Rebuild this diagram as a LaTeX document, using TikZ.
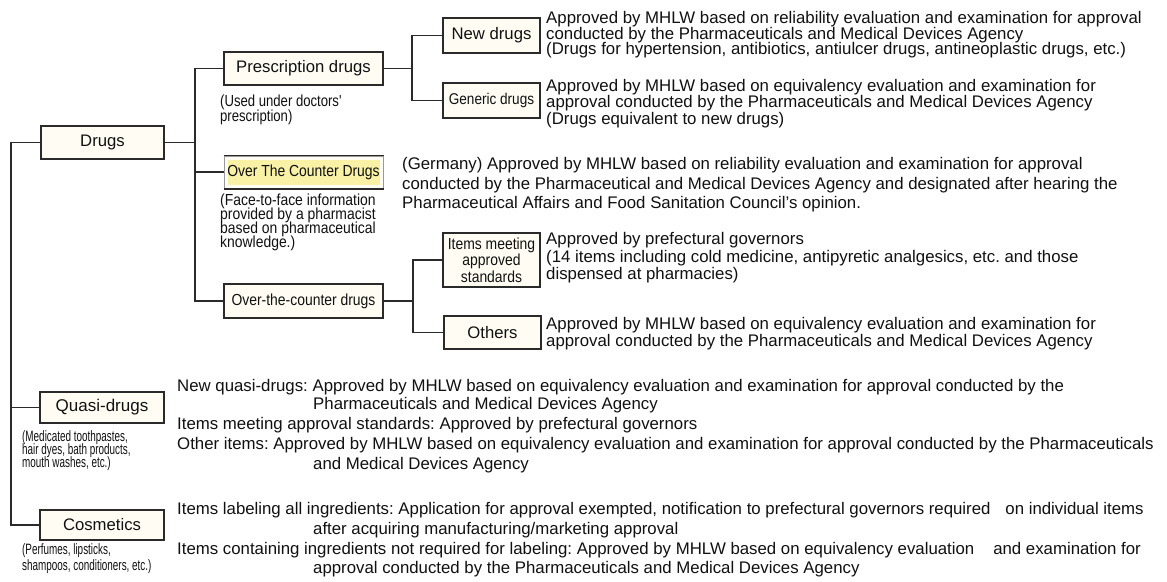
\documentclass[tikz,border=0pt]{standalone}
\usepackage{fontspec}
\setmainfont{Liberation Sans}
\newfontfamily\nfA[FakeStretch=0.87]{Liberation Sans}
\newfontfamily\nfB[FakeStretch=0.82]{Liberation Sans}
\newfontfamily\nfC[FakeStretch=0.66]{Liberation Sans}
\definecolor{linec}{HTML}{2A2A2A}
\definecolor{txtc}{HTML}{111111}
\definecolor{boxfill}{HTML}{FFFDF3}
\definecolor{hlyellow}{HTML}{F8F1A6}
\newcommand{\bodyline}[4]{\node[body] (#1) at (#2,#3) {#4};}
\frenchspacing
\begin{document}
\begin{tikzpicture}[x=1pt,y=-1pt,
  catbox/.style={draw=linec, line width=1.4pt, fill=boxfill, inner sep=0pt, text=txtc},
  conn/.style={draw=linec, line width=1.4pt},
  body/.style={inner sep=0pt, anchor=base west, text=txtc, font=\fontsize{16.8}{18}\selectfont},
  notea/.style={inner sep=0pt, anchor=base west, text=txtc, font=\nfB\fontsize{16}{16}\selectfont},
  noteb/.style={inner sep=0pt, anchor=base west, text=txtc, font=\nfA\fontsize{16}{16}\selectfont},
  notec/.style={inner sep=0pt, anchor=base west, text=txtc, font=\nfC\fontsize{15}{15}\selectfont},
  lblfont/.style={font=\fontsize{16.7}{18}\selectfont},
  lblnarrow/.style={font=\nfA\fontsize{16}{16.5}\selectfont},
]
\path[use as bounding box, fill=white] (0,0) rectangle (1167,581);

% ---- category boxes ----
\node[catbox, lblfont, minimum width=123pt, minimum height=33pt] (drugs) at (102.5,142.5) {Drugs};
\node[catbox, lblfont, minimum width=159pt, minimum height=33pt] (presc) at (303.5,68.5) {Prescription drugs};
\node[catbox, lblnarrow, draw=black!40, line width=1pt, minimum width=159pt, minimum height=32pt,
  path picture={\fill[hlyellow] ([shift={(4pt,-4pt)}]path picture bounding box.north west) rectangle ([shift={(-3pt,3pt)}]path picture bounding box.south east);}]
  (otc) at (303.5,172) {Over The Counter Drugs};
\draw[conn, line width=1.2pt] (otc.north west) -- (otc.north east);
\draw[conn, line width=2pt] (otc.south west) -- (otc.south east);
\node[catbox, lblnarrow, minimum width=159pt, minimum height=34pt] (otcd) at (303.5,301) {Over-the-counter drugs};
\node[catbox, lblfont, minimum width=97pt, minimum height=35pt] (newd) at (491.5,35.5) {New drugs};
\node[catbox, font=\nfA\fontsize{15.6}{16}\selectfont, minimum width=97pt, minimum height=35pt] (gen) at (491.5,100.5) {Generic drugs};
\node[catbox, lblnarrow, align=center, minimum width=97pt, minimum height=54pt] (items) at (491.5,260) {Items meeting\\approved\\standards};
\node[catbox, lblfont, minimum width=97pt, minimum height=33pt] (others) at (492.5,332.5) {Others};
\node[catbox, font=\fontsize{17}{18}\selectfont, minimum width=124pt, minimum height=31pt] (quasi) at (102,407.5) {Quasi-drugs};
\node[catbox, lblfont, minimum width=124pt, minimum height=30pt] (cosm) at (102,525) {Cosmetics};

% ---- connectors ----
\coordinate (sp0) at (11,142.5);
\coordinate (sp1) at (195,142.5);
\coordinate (sp2) at (412,68.5);
\coordinate (sp3) at (413,301);
\draw[conn] (drugs.west) -- (sp0) |- (cosm.west);
\draw[conn] (sp0) |- (quasi.west);
\draw[conn] (drugs.east) -- (sp1);
\draw[conn] (presc.west) -| (sp1) |- (otcd.west);
\draw[conn] (sp1) |- (otc.west);
\draw[conn] (presc.east) -- (sp2);
\draw[conn] (newd.west) -| (sp2) |- (gen.west);
\draw[conn] (otcd.east) -- (sp3);
\draw[conn] (items.west) -| (sp3) |- (others.west);

% ---- notes under boxes ----
\node[notea] (n1a) at (220,106) {(Used under doctors'};
\node[notea] (n1b) at (220,121) {prescription)};
\node[noteb] (n2a) at (220,205.5) {(Face-to-face information};
\node[noteb] (n2b) at (220,219.5) {provided by a pharmacist};
\node[noteb] (n2c) at (220,233.5) {based on pharmaceutical};
\node[noteb] (n2d) at (220,247.5) {knowledge.)};
\node[notec] (n3a) at (22,441) {(Medicated toothpastes,};
\node[notec] (n3b) at (22,454) {hair dyes, bath products,};
\node[notec] (n3c) at (22,467) {mouth washes, etc.)};
\node[notec] (n4a) at (22,554) {(Perfumes, lipsticks,};
\node[notec] (n4b) at (22,570) {shampoos, conditioners, etc.)};

% ---- descriptions ----
\bodyline{t1a}{546}{23.5}{Approved by MHLW based on reliability evaluation and examination for approval}
\bodyline{t1b}{546}{39}{conducted by the Pharmaceuticals and Medical Devices Agency}
\bodyline{t1c}{546}{54.5}{(Drugs for hypertension, antibiotics, antiulcer drugs, antineoplastic drugs, etc.)}
\bodyline{t2a}{546}{91}{Approved by MHLW based on equivalency evaluation and examination for}
\bodyline{t2b}{546}{107.5}{approval conducted by the Pharmaceuticals and Medical Devices Agency}
\bodyline{t2c}{546}{124}{(Drugs equivalent to new drugs)}
\bodyline{t3a}{402}{169}{(Germany) Approved by MHLW based on reliability evaluation and examination for approval}
\bodyline{t3b}{402}{189}{conducted by the Pharmaceutical and Medical Devices Agency and designated after hearing the}
\bodyline{t3c}{402}{208.5}{Pharmaceutical Affairs and Food Sanitation Council's opinion.}
\bodyline{t4a}{546}{244}{Approved by prefectural governors}
\bodyline{t4b}{546}{262}{(14 items including cold medicine, antipyretic analgesics, etc. and those}
\bodyline{t4c}{546}{279}{dispensed at pharmacies)}
\bodyline{t5a}{546}{329}{Approved by MHLW based on equivalency evaluation and examination for}
\bodyline{t5b}{546}{346}{approval conducted by the Pharmaceuticals and Medical Devices Agency}
\bodyline{q1}{177}{391}{New quasi-drugs: Approved by MHLW based on equivalency evaluation and examination for approval conducted by the}
\bodyline{q2}{313}{409}{Pharmaceuticals and Medical Devices Agency}
\bodyline{q3}{177}{429}{Items meeting approval standards: Approved by prefectural governors}
\bodyline{q4}{177}{449}{Other items: Approved by MHLW based on equivalency evaluation and examination for approval conducted by the Pharmaceuticals}
\bodyline{q5}{313}{469}{and Medical Devices Agency}
\bodyline{c1}{177}{514}{Items labeling all ingredients: Application for approval exempted, notification to prefectural governors required\hspace{15pt}on individual items}
\bodyline{c2}{313}{534}{after acquiring manufacturing/marketing approval}
\bodyline{c3}{177}{554}{Items containing ingredients not required for labeling: Approved by MHLW based on equivalency evaluation\hspace{19pt}and examination for}
\bodyline{c4}{313}{573}{approval conducted by the Pharmaceuticals and Medical Devices Agency}
\end{tikzpicture}
\end{document}
